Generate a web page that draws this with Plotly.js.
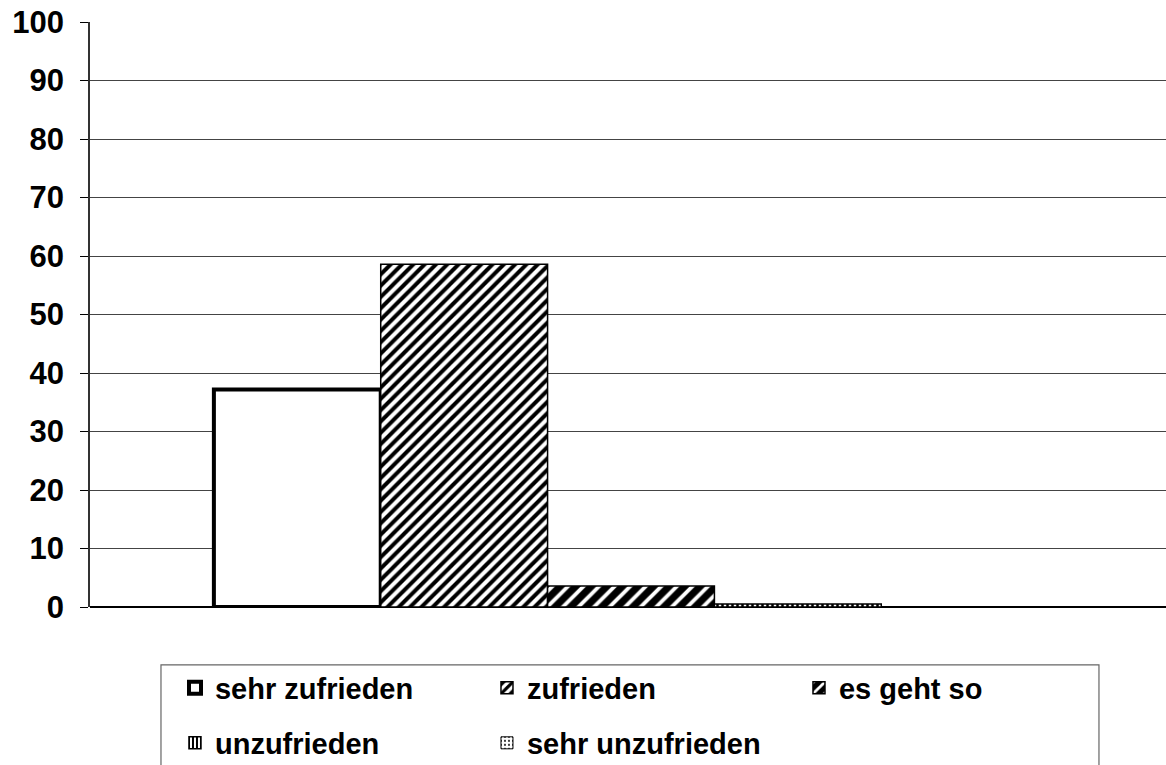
<!DOCTYPE html>
<html>
<head>
<meta charset="utf-8">
<script src="https://cdn.plot.ly/plotly-3.0.1.min.js"></script>
<style>
  html, body { margin: 0; padding: 0; background: #fff; overflow: hidden; }
  #chart { width: 1172px; height: 765px; }
</style>
</head>
<body>
<div id="chart"></div>
<script>
// Zufriedenheit, Angaben in Prozent
const categories = [""]
const seriesNames = ["sehr zufrieden", "zufrieden", "es geht so", "unzufrieden", "sehr unzufrieden"]
const seriesValues = [37.2, 58.6, 3.6, 0.5, 0]
const yTicks = [0, 10, 20, 30, 40, 50, 60, 70, 80, 90, 100]

const fontFamily = "Arial, 'Liberation Sans', sans-serif"

// fill style for every series (pattern like the old office charts)
const styles = [
  { pattern: { shape: "" }, lineWidth: 4 },
  { pattern: { shape: "/", fgcolor: "#000", bgcolor: "#fff", size: 8, solidity: 0.5 }, lineWidth: 1.5 },
  { pattern: { shape: "/", fgcolor: "#fff", bgcolor: "#000", size: 11, solidity: 0.35 }, lineWidth: 1.5 },
  { pattern: { shape: "|", fgcolor: "#000", bgcolor: "#fff", size: 5, solidity: 0.5 }, lineWidth: 1.5 },
  { pattern: { shape: ".", fgcolor: "#000", bgcolor: "#fff", size: 5, solidity: 0.2 }, lineWidth: 1 },
]

const traces = seriesNames.map((name, i) => ({
  type: "bar",
  name: name,
  x: categories,
  y: [seriesValues[i]],
  legend: i < 3 ? "legend" : "legend2",
  marker: {
    color: "#fff",
    line: { color: "#000", width: styles[i].lineWidth },
    pattern: styles[i].pattern,
  },
  hoverinfo: "name+y",
}))

// the legend is split in two rows, each row its own legend
const legendCommon = {
  orientation: "h",
  xref: "container",
  yref: "container",
  xanchor: "left",
  yanchor: "middle",
  x: 0.1493,
  entrywidth: 267,
  entrywidthmode: "pixels",
  borderwidth: 0,
  bgcolor: "rgba(0,0,0,0)",
  traceorder: "normal",
  font: { family: fontFamily, size: 29, color: "#000", weight: "bold" },
}

const layout = {
  width: 1172,
  height: 765,
  margin: { t: 22, r: 0, b: 158, l: 90 },
  paper_bgcolor: "#fff",
  plot_bgcolor: "#fff",
  barmode: "group",
  bargap: 0.229,
  bargroupgap: 0,
  showlegend: true,
  font: { family: fontFamily, color: "#000" },
  xaxis: {
    showticklabels: false,
    showgrid: false,
    zeroline: false,
    showline: false,
    ticks: "",
  },
  yaxis: {
    range: [0, 100],
    tickvals: yTicks,
    showgrid: true,
    gridcolor: "#444",
    gridwidth: 1,
    zeroline: true,
    zerolinecolor: "#000",
    zerolinewidth: 1.5,
    showline: true,
    linecolor: "#333",
    linewidth: 1.5,
    ticks: "outside",
    ticklen: 8,
    tickwidth: 1,
    tickcolor: "#000",
    ticklabelstandoff: 10,
    tickfont: { family: fontFamily, size: 31, color: "#000", weight: "bold" },
    fixedrange: true,
  },
  legend: Object.assign({}, legendCommon, { y: 0.1007 }),
  legend2: Object.assign({}, legendCommon, { y: 0.0288 }),
  shapes: [
    {
      // frame round the legend, runs off the bottom like the original
      type: "rect",
      xref: "paper",
      yref: "paper",
      x0: 0.0656,
      x1: 0.9325,
      y0: -0.0991,
      y1: -0.4,
      line: { color: "#666", width: 1.2 },
      fillcolor: "rgba(0,0,0,0)",
      layer: "below",
    },
  ],
}

Plotly.newPlot("chart", traces, layout, { displayModeBar: false, responsive: false })
</script>
</body>
</html>
